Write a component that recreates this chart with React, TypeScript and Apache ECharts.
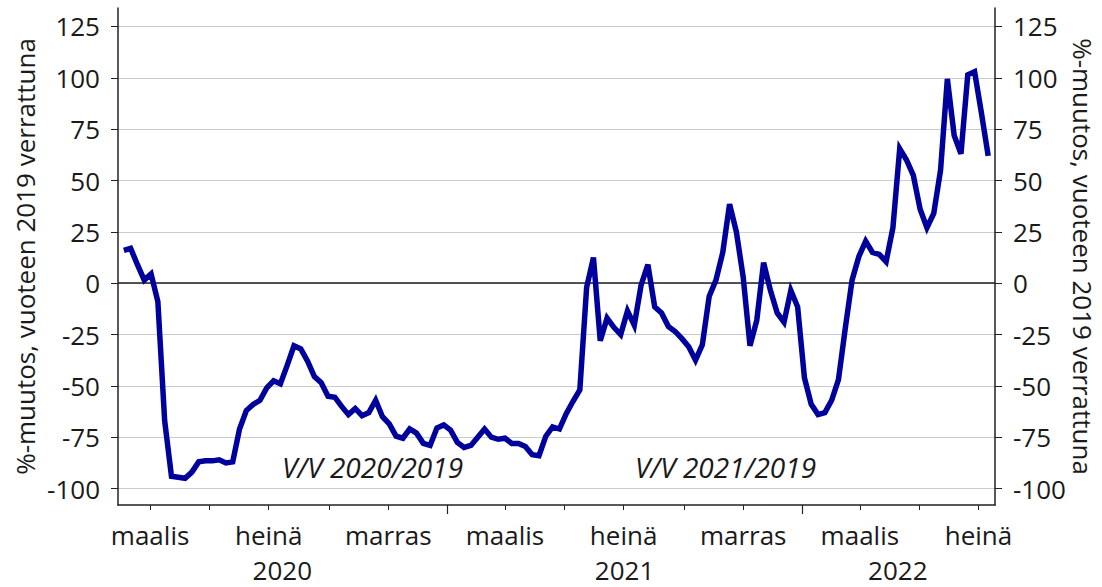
import React, { useEffect, useRef } from "react";
import * as echarts from "echarts";

// Weekly observations, first week starting 2020-02-03
const FIRST_WEEK = Date.UTC(2020, 1, 3);
const WEEK_MS = 7 * 24 * 3600 * 1000;

const changePct: number[] = [
  16, 17, 9, 1.5, 4.5, -9, -67, -94, -94.5, -95,
  -92, -87, -86.5, -86.5, -86, -87.5, -87, -71, -62, -59,
  -57, -51, -47.5, -49, -40, -30.5, -32, -38, -45.5, -48.5,
  -55, -55.5, -60, -64, -61, -64.5, -63, -57, -65, -68.5,
  -74.5, -75.5, -71, -73, -78, -79, -70.5, -69, -71.5, -77.5,
  -80, -79, -75, -71, -75, -76, -75.5, -78, -78, -79.5,
  -83.5, -84, -74.5, -70, -71, -63.5, -57.5, -52, -2, 12.5,
  -28, -17, -21.5, -25, -13.5, -20.5, -1, 9, -11.5, -14.5,
  -21, -23.5, -27, -31, -37.5, -30, -6.5, 1.5, 15, 38.5,
  25, 3, -30.5, -18, 10, -3.5, -14.5, -19, -3.5, -11.5,
  -46, -59, -64, -63, -57, -47, -22, 1.5, 13, 20.5,
  15, 14, 10.5, 27, 65.5, 60, 52.5, 36, 27, 34,
  55, 99.5, 72, 63, 101.5, 103, 83, 62,
];

const weekDates: number[] = changePct.map((_, i) => FIRST_WEEK + i * WEEK_MS);

const X_MIN = Date.UTC(2020, 0, 28);
const X_MAX = Date.UTC(2022, 6, 18);

const MONTH_NAMES = [
  "tammi", "helmi", "maalis", "huhti", "touko", "kesä",
  "heinä", "elo", "syys", "loka", "marras", "joulu",
];

const minorTickDates: number[] = [
  Date.UTC(2020, 2, 1), Date.UTC(2020, 4, 1), Date.UTC(2020, 6, 1),
  Date.UTC(2020, 8, 1), Date.UTC(2020, 10, 1),
  Date.UTC(2021, 2, 1), Date.UTC(2021, 4, 1), Date.UTC(2021, 6, 1),
  Date.UTC(2021, 8, 1), Date.UTC(2021, 10, 1),
  Date.UTC(2022, 2, 1), Date.UTC(2022, 4, 1), Date.UTC(2022, 6, 1),
];
const monthLabelDates: number[] = [
  Date.UTC(2020, 2, 1), Date.UTC(2020, 6, 1), Date.UTC(2020, 10, 1),
  Date.UTC(2021, 2, 1), Date.UTC(2021, 6, 1), Date.UTC(2021, 10, 1),
  Date.UTC(2022, 2, 1), Date.UTC(2022, 6, 1),
];
const yearTickDates: number[] = [Date.UTC(2021, 0, 1), Date.UTC(2022, 0, 1)];
const yearLabelDates: number[] = [
  Date.UTC(2020, 6, 15), Date.UTC(2021, 6, 2), Date.UTC(2022, 3, 9),
];

const yTicks: number[] = [-100, -75, -50, -25, 0, 25, 50, 75, 100, 125];

const Y_NAME = "%-muutos, vuoteen 2019 verrattuna";
const NOTE_2020 = "V/V 2020/2019";
const NOTE_2021 = "V/V 2021/2019";

const FONT = '"Open Sans", "Noto Sans", sans-serif';
const TEXT = "#1a1a1a";
const AXIS = "#222";
const LINE = "#00009c";

export default function App() {
  const ref = useRef<HTMLDivElement>(null);

  useEffect(() => {
    if (!ref.current) return;
    const chart = echarts.init(ref.current, undefined, { renderer: "svg" });

    const yAxisBase = (pos: "left" | "right") => ({
      type: "value",
      position: pos,
      min: -108,
      max: 134,
      axisLine: { show: true, lineStyle: { color: AXIS, width: 1.5 } },
      axisTick: {
        show: true,
        length: 7,
        customValues: yTicks,
        lineStyle: { color: AXIS, width: 1 },
      },
      axisLabel: {
        customValues: yTicks,
        fontSize: 26,
        color: TEXT,
        margin: 18,
        fontFamily: FONT,
      },
      splitLine: {
        show: pos === "left",
        lineStyle: { color: "#cccccc", width: 1 },
      },
      name: Y_NAME,
      nameLocation: "middle",
      nameGap: pos === "left" ? 80 : 75,
      nameRotate: pos === "left" ? 90 : -90,
      nameMoveOverlap: false,
      nameTextStyle: { fontSize: 26, color: TEXT, fontFamily: FONT },
    });

    chart.setOption({
      animation: false,
      textStyle: { fontFamily: FONT },
      grid: {
        left: 118,
        right: 107,
        top: 8,
        bottom: 82,
        containLabel: false,
        outerBoundsMode: "none",
      },
      xAxis: [
        {
          type: "value",
          min: X_MIN,
          max: X_MAX,
          position: "bottom",
          axisLine: { show: true, onZero: false, lineStyle: { color: AXIS, width: 1.5 } },
          axisTick: {
            show: true,
            length: 5,
            customValues: minorTickDates,
            lineStyle: { color: AXIS, width: 1 },
          },
          axisLabel: {
            customValues: monthLabelDates,
            formatter: (v: number) => MONTH_NAMES[new Date(v).getUTCMonth()],
            fontSize: 26,
            color: TEXT,
            margin: 17,
            fontFamily: FONT,
          },
          splitLine: { show: false },
        },
        {
          type: "value",
          min: X_MIN,
          max: X_MAX,
          position: "bottom",
          axisLine: { show: false, onZero: false },
          axisTick: {
            show: true,
            length: 9,
            customValues: yearTickDates,
            lineStyle: { color: AXIS, width: 1.2 },
          },
          axisLabel: {
            customValues: yearLabelDates,
            formatter: (v: number) => String(new Date(v).getUTCFullYear()),
            fontSize: 26,
            color: TEXT,
            margin: 52,
            fontFamily: FONT,
          },
          splitLine: { show: false },
        },
      ],
      yAxis: [yAxisBase("left"), yAxisBase("right")],
      series: [
        {
          type: "line",
          xAxisIndex: 0,
          yAxisIndex: 0,
          data: weekDates.map((d, i) => [d, changePct[i]]),
          showSymbol: false,
          symbol: "none",
          lineStyle: { color: LINE, width: 5.5, join: "miter" },
          itemStyle: { color: LINE },
          z: 5,
          markLine: {
            silent: true,
            symbol: "none",
            label: { show: false },
            lineStyle: { color: AXIS, type: "solid", width: 1.5 },
            data: [{ yAxis: 0 }],
            z: 3,
          },
        },
      ],
      graphic: [
        {
          type: "text",
          x: 282,
          y: 467,
          style: {
            text: NOTE_2020,
            fontSize: 28,
            fontStyle: "italic",
            fontFamily: FONT,
            fill: TEXT,
            verticalAlign: "middle",
          },
        },
        {
          type: "text",
          x: 635,
          y: 467,
          style: {
            text: NOTE_2021,
            fontSize: 28,
            fontStyle: "italic",
            fontFamily: FONT,
            fill: TEXT,
            verticalAlign: "middle",
          },
        },
      ],
    });

    return () => chart.dispose();
  }, []);

  return (
    <div
      ref={ref}
      style={{ position: "fixed", left: 0, top: 0, width: 1102, height: 587, background: "#fff" }}
    />
  );
}
